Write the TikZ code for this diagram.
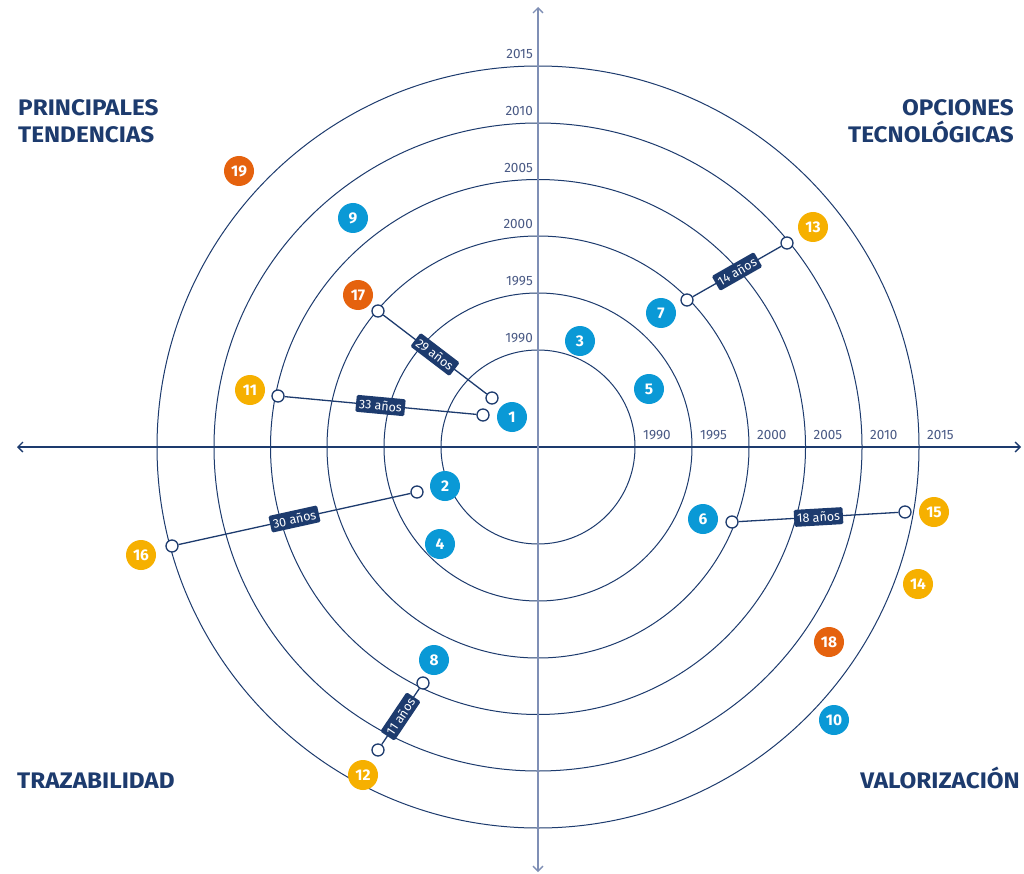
\documentclass[tikz,border=0pt]{standalone}
\usepackage{fontspec}
\setmainfont{Fira Sans}
\newfontfamily\titlefont{Fira Sans}[FakeStretch=1.08]
\usetikzlibrary{arrows.meta}
\definecolor{navy}{HTML}{1D3B6E}
\definecolor{axisblue}{HTML}{7F8FB5}
\definecolor{yeargray}{HTML}{4A5A85}
\definecolor{bblue}{HTML}{0A99D6}
\definecolor{byellow}{HTML}{F6B000}
\definecolor{borange}{HTML}{E5620E}
\begin{document}
\begin{tikzpicture}[x=1pt,y=-1pt,
  ring/.style={draw=navy,line width=1pt},
  axisline/.style={line width=1.3pt, {Straight Barb[length=5pt,width=10pt]}-{Straight Barb[length=5pt,width=10pt]}},
  yr/.style={font=\fontsize{13.5}{13.5}\selectfont, text=yeargray, inner sep=0pt},
  bub/.style={circle, minimum size=30pt, inner sep=0pt, text=white, font=\fontsize{15.5}{15.5}\selectfont\bfseries},
  blu/.style={bub, fill=bblue},
  yel/.style={bub, fill=byellow},
  ora/.style={bub, fill=borange},
  oc/.style={circle, draw=navy, fill=white, line width=1.3pt, minimum size=12pt, inner sep=0pt},
  lbl/.style={fill=navy, text=white, rounded corners=1.5pt, font=\fontsize{12.5}{12.5}\selectfont, inner xsep=3pt, inner ysep=0pt, minimum height=17pt, sloped, midway},
  conn/.style={draw=navy, line width=1.3pt},
  title/.style={font=\titlefont\fontsize{22.5}{27}\selectfont\bfseries, text=navy, inner sep=0pt}
]
\useasboundingbox (0,0) rectangle (1024,874);
\fill[white] (0,0) rectangle (1024,874);

% rings
\foreach \r in {97,154,211,267.5,324,381}
  \draw[ring] (538,447) circle[radius=\r pt];

% axes
\draw[axisline, draw=navy] (17,447) -- (1021,447);
\draw[axisline, draw=axisblue] (538,7) -- (538,872);

% year labels on top
\foreach \r/\y in {97/1990,154/1995,211/2000,267.5/2005,324/2010,381/2015}
  \node[yr, anchor=east] (t\y) at (533,447-\r-12) {\y};
% year labels right
\foreach \r/\y in {97/1990,154/1995,211/2000,267.5/2005,324/2010,381/2015}
  \node[yr, anchor=west] (r\y) at (538+\r+8,435) {\y};

% titles
\node[title, anchor=north west, align=left] (tl) at (18,99) {PRINCIPALES\\TENDENCIAS};
\node[title, anchor=north east, align=right] (tr) at (1014,99) {OPCIONES\\TECNOLÓGICAS};
\node[title, anchor=base west] (bl) at (17,788) {TRAZABILIDAD};
\node[title, anchor=base east] (br) at (1020,788) {VALORIZACIÓN};

% bubbles
\node[blu] (n1) at (512,417) {1};
\node[blu] (n2) at (445,486) {2};
\node[blu] (n3) at (580,341) {3};
\node[blu] (n4) at (440,544) {4};
\node[blu] (n5) at (649,389) {5};
\node[blu] (n6) at (703,519) {6};
\node[blu] (n7) at (661,313) {7};
\node[blu] (n8) at (434,660) {8};
\node[blu] (n9) at (353,218) {9};
\node[blu] (n10) at (834,720) {10};
\node[yel] (n11) at (250,390) {11};
\node[yel] (n12) at (363,775) {12};
\node[yel] (n13) at (813,227) {13};
\node[yel] (n14) at (918,584) {14};
\node[yel] (n15) at (934,512) {15};
\node[yel] (n16) at (141,555) {16};
\node[ora] (n17) at (358,295) {17};
\node[ora] (n18) at (829,642) {18};
\node[ora] (n19) at (239,171) {19};

% open circles
\node[oc] (o17) at (378,311) {};
\node[oc] (o1)  at (492,398) {};
\node[oc] (o11) at (278,396) {};
\node[oc] (o1b) at (483,415) {};
\node[oc] (o7)  at (687,300) {};
\node[oc] (o13) at (787,243) {};
\node[oc] (o16) at (172,546) {};
\node[oc] (o2)  at (417,492) {};
\node[oc] (o6)  at (732,522) {};
\node[oc] (o15) at (905,512) {};
\node[oc] (o8)  at (423,683) {};
\node[oc] (o12) at (378,750) {};

% connectors
\draw[conn] (o17) -- node[lbl] {29 años} (o1);
\draw[conn] (o11) -- node[lbl] {33 años} (o1b);
\draw[conn] (o7) -- node[lbl] {14 años} (o13);
\draw[conn] (o16) -- node[lbl] {30 años} (o2);
\draw[conn] (o6) -- node[lbl] {18 años} (o15);
\draw[conn] (o12) -- node[lbl] {11 años} (o8);
\end{tikzpicture}
\end{document}
